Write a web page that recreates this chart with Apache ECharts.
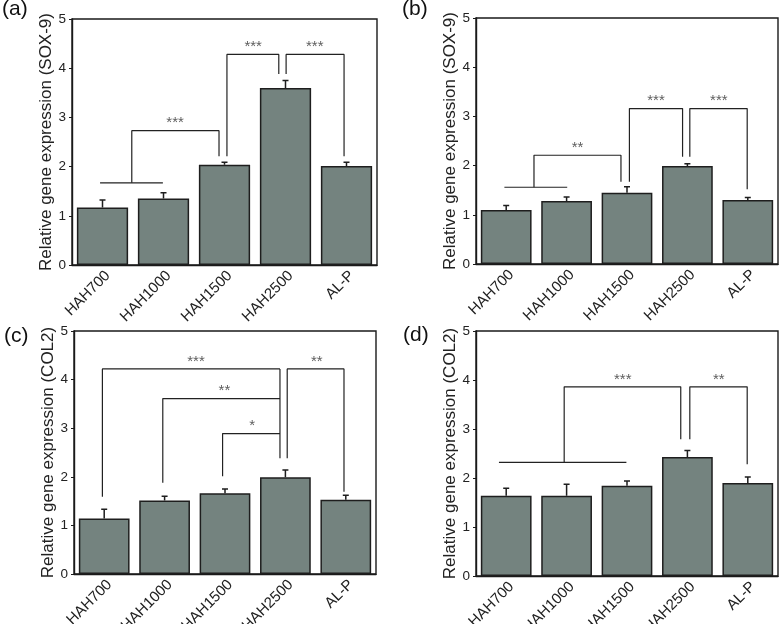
<!DOCTYPE html>
<html>
<head>
<meta charset="utf-8">
<script src="https://cdn.jsdelivr.net/npm/echarts@6/dist/echarts.min.js"></script>
<style>
html,body{margin:0;padding:0;background:#fff;}
#chart{width:780px;height:624px;}
</style>
</head>
<body>
<div id="chart"></div>
<script>
// ---- data ----
var categories = ['HAH700', 'HAH1000', 'HAH1500', 'HAH2500', 'AL-P'];
var yTicks = [0, 1, 2, 3, 4, 5];
var panelLabels = ['(a)', '(b)', '(c)', '(d)'];
var yNames = ['Relative gene expression (SOX-9)', 'Relative gene expression (SOX-9)',
              'Relative gene expression (COL2)', 'Relative gene expression (COL2)'];

var valuesA = [1.17, 1.35, 2.04, 3.60, 2.01];
var errorsA = [0.15, 0.12, 0.05, 0.15, 0.08];
var valuesB = [1.10, 1.28, 1.45, 1.99, 1.30];
var errorsB = [0.09, 0.08, 0.12, 0.05, 0.05];
var valuesC = [1.14, 1.51, 1.66, 1.99, 1.53];
var errorsC = [0.19, 0.09, 0.09, 0.15, 0.09];
var valuesD = [1.64, 1.64, 1.84, 2.43, 1.90];
var errorsD = [0.15, 0.23, 0.10, 0.13, 0.12];

// significance brackets: polyline points [category position, value], label, label position
var bracketsA = [
  {pts: [[-0.04, 1.67], [0.99, 1.67]], label: '', lx: 0, ly: 0},
  {pts: [[0.48, 1.67], [0.48, 2.73], [1.91, 2.73], [1.91, 2.21]], label: '***', lx: 1.19, ly: 2.73},
  {pts: [[2.04, 2.21], [2.04, 4.28], [2.89, 4.28], [2.89, 3.88]], label: '***', lx: 2.47, ly: 4.28},
  {pts: [[3.01, 3.88], [3.01, 4.28], [3.96, 4.28], [3.96, 2.21]], label: '***', lx: 3.48, ly: 4.28}
];
var bracketsB = [
  {pts: [[-0.03, 1.56], [1.01, 1.56]], label: '', lx: 0, ly: 0},
  {pts: [[0.46, 1.56], [0.46, 2.21], [1.90, 2.21], [1.90, 1.67]], label: '**', lx: 1.18, ly: 2.21},
  {pts: [[2.04, 1.67], [2.04, 3.16], [2.92, 3.16], [2.92, 2.18]], label: '***', lx: 2.48, ly: 3.16},
  {pts: [[3.04, 2.18], [3.04, 3.16], [3.99, 3.16], [3.99, 1.52]], label: '***', lx: 3.52, ly: 3.16}
];
var bracketsC = [
  {pts: [[-0.03, 1.59], [-0.03, 4.22], [2.91, 4.22]], label: '***', lx: 1.52, ly: 4.22},
  {pts: [[0.97, 1.88], [0.97, 3.61], [2.91, 3.61]], label: '**', lx: 1.99, ly: 3.61},
  {pts: [[1.96, 2.01], [1.96, 2.89], [2.91, 2.89]], label: '*', lx: 2.45, ly: 2.89},
  {pts: [[2.91, 4.22], [2.91, 2.38]], label: '', lx: 0, ly: 0},
  {pts: [[3.03, 2.38], [3.03, 4.22], [3.97, 4.22], [3.97, 1.69]], label: '**', lx: 3.52, ly: 4.22}
];
var bracketsD = [
  {pts: [[-0.12, 2.32], [1.99, 2.32]], label: '', lx: 0, ly: 0},
  {pts: [[0.96, 2.32], [0.96, 3.86], [2.89, 3.86], [2.89, 2.79]], label: '***', lx: 1.93, ly: 3.86},
  {pts: [[3.04, 2.79], [3.04, 3.86], [3.99, 3.86], [3.99, 2.28]], label: '**', lx: 3.52, ly: 3.86}
];

// ---- layout ----
var FONT = 'Liberation Sans, Arial, sans-serif';
var grids = [
  {left: 72, top: 19, width: 305, height: 246},
  {left: 476, top: 18, width: 302, height: 246},
  {left: 74, top: 331, width: 302, height: 243},
  {left: 476, top: 331, width: 302, height: 245}
];
var labelPos = [[2, -1], [402, -1], [4, 326], [403, 325]];

var panels = [
  {values: valuesA, errors: errorsA, brackets: bracketsA},
  {values: valuesB, errors: errorsB, brackets: bracketsB},
  {values: valuesC, errors: errorsC, brackets: bracketsC},
  {values: valuesD, errors: errorsD, brackets: bracketsD}
];

var option = {
  animation: false,
  textStyle: {fontFamily: FONT},
  grid: [], xAxis: [], yAxis: [], series: [], graphic: []
};

function makeErrorRender(vals, errs) {
  return function (params, api) {
    var i = params.dataIndex;
    var base = api.coord([i, vals[i]]);
    var top = api.coord([i, vals[i] + errs[i]]);
    return {
      type: 'polyline',
      shape: {points: [[base[0], base[1]], [top[0], top[1]], [top[0] - 3, top[1]], [top[0] + 3, top[1]]]},
      style: {stroke: '#1e1e1e', lineWidth: 1.5, fill: null}
    };
  };
}

panels.forEach(function (p, k) {
  var g = grids[k];
  option.grid.push({
    left: g.left, top: g.top, width: g.width, height: g.height,
    containLabel: false, outerBoundsMode: 'none',
    show: true, borderColor: '#1a1a1a', borderWidth: 1.4, backgroundColor: 'transparent'
  });
  option.xAxis.push({
    type: 'category', gridIndex: k, data: categories,
    axisLine: {onZero: false, lineStyle: {color: '#1a1a1a', width: 1.4}},
    axisTick: {show: false},
    axisLabel: {rotate: 45, interval: 0, fontSize: 15, color: '#222', margin: 3,
                verticalAlign: 'top', fontFamily: FONT}
  });
  option.xAxis.push({
    type: 'value', gridIndex: k, min: -0.5, max: 4.5, show: false
  });
  option.yAxis.push({
    type: 'value', gridIndex: k, min: yTicks[0], max: yTicks[yTicks.length - 1], interval: 1,
    name: yNames[k], nameLocation: 'middle', nameGap: 17,
    nameTextStyle: {fontSize: 17, color: '#222', fontFamily: FONT},
    axisLine: {show: true, onZero: false, lineStyle: {color: '#1a1a1a', width: 1.4}},
    axisTick: {show: true, length: 3, lineStyle: {color: '#1a1a1a', width: 1}},
    axisLabel: {fontSize: 13.5, color: '#222', margin: 6, fontFamily: FONT},
    splitLine: {show: false}
  });
  var xc = 2 * k, xv = 2 * k + 1;
  option.series.push({
    type: 'bar', xAxisIndex: xc, yAxisIndex: k, data: p.values,
    barCategoryGap: '16%',
    itemStyle: {color: '#74837f', borderColor: '#1e1e1e', borderWidth: 1.5},
    silent: true, z: 2
  });
  option.series.push({
    type: 'custom', xAxisIndex: xc, yAxisIndex: k,
    data: p.values.map(function (v, i) { return [categories[i], v + p.errors[i]]; }),
    renderItem: makeErrorRender(p.values, p.errors),
    silent: true, z: 3, clip: false
  });
  p.brackets.forEach(function (b) {
    option.series.push({
      type: 'line', xAxisIndex: xv, yAxisIndex: k, data: b.pts,
      symbol: 'none', lineStyle: {color: '#222', width: 1.2}, silent: true, z: 4
    });
  });
  var lbls = p.brackets.filter(function (b) { return b.label; })
    .map(function (b) { return [b.lx, b.ly, b.label]; });
  option.series.push({
    type: 'scatter', xAxisIndex: xv, yAxisIndex: k, data: lbls, symbolSize: 0,
    label: {show: true, position: 'top', distance: 0, fontSize: 15, color: '#333',
            fontFamily: FONT, formatter: function (d) { return d.data[2]; }},
    silent: true, z: 5
  });
  option.graphic.push({
    type: 'text', left: labelPos[k][0], top: labelPos[k][1],
    style: {text: panelLabels[k], fill: '#111', font: '21px ' + FONT}
  });
});

var chart = echarts.init(document.getElementById('chart'), null, {renderer: 'canvas'});
chart.setOption(option);
</script>
</body>
</html>
